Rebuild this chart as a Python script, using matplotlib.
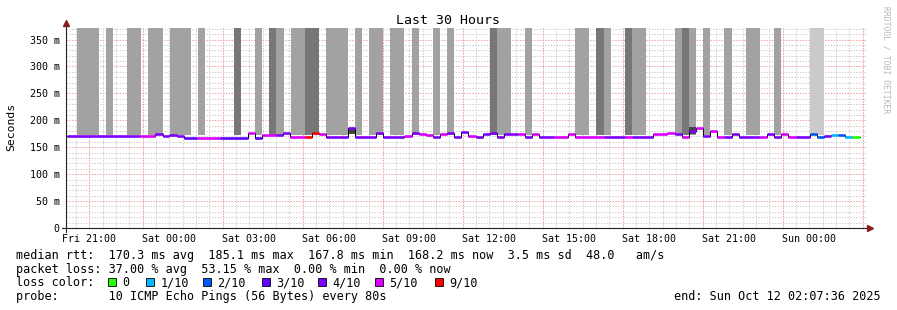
import matplotlib
matplotlib.use("Agg")
import matplotlib.pyplot as plt
import numpy as np
from matplotlib.patches import Rectangle

plt.rcParams['font.family'] = 'DejaVu Sans Mono'

W, H = 897, 310

# time axis: hours since Fri 00:00, window = last 30 hours up to Sun 02:07:36
t_start = 20 + 7.6 / 60
t_end = t_start + 30

# smoke bands (high rtt spread), hours
smoke_t0 = [20.54, 21.63, 22.41, 23.20, 24.03, 25.08, 26.43, 27.21, 27.74, 28.00,
            28.56, 29.09, 29.88, 30.96, 31.49, 32.28, 33.10, 33.89, 34.41, 36.03,
            36.29, 37.34, 39.21, 40.00, 40.30, 41.09, 41.35, 42.96, 43.23, 43.49,
            44.01, 44.80, 45.63, 46.68, 48.03]
smoke_t1 = [21.36, 21.89, 22.94, 23.76, 24.81, 25.34, 26.69, 27.48, 28.00, 28.30,
            29.09, 29.61, 30.70, 31.23, 32.01, 32.80, 33.36, 34.15, 34.68, 36.29,
            36.81, 37.60, 39.74, 40.30, 40.56, 41.35, 41.88, 43.23, 43.49, 43.75,
            44.28, 45.10, 46.15, 46.94, 48.55]
smoke_kind = ['L', 'L', 'L', 'L', 'L', 'L', 'D', 'L', 'D', 'L',
              'L', 'D', 'L', 'L', 'L', 'L', 'L', 'L', 'L', 'D',
              'L', 'L', 'L', 'D', 'L', 'D', 'L', 'L', 'D', 'L',
              'L', 'L', 'L', 'L', 'V']
smoke_lo = 172
smoke_hi = 400

# small smoke patches near the median
patch_t0 = [30.70, 43.49]
patch_t1 = [30.96, 43.75]
patch_lo = [174, 175]
patch_hi = [186, 188]

# median rtt (ms), step segments, with loss bucket
med_edges = [20.16, 22.90, 23.46, 23.76, 23.99, 24.29, 24.55, 25.04, 25.90, 26.95,
             27.21, 27.48, 28.00, 28.26, 28.53, 29.09, 29.35, 29.61, 29.88, 30.70,
             30.96, 31.75, 32.01, 32.80, 33.10, 33.36, 33.63, 33.89, 34.15, 34.41,
             34.68, 34.94, 35.20, 35.50, 35.76, 36.03, 36.29, 36.55, 37.08, 37.34,
             37.60, 37.86, 38.43, 38.95, 39.21, 40.30, 41.09, 41.35, 42.14, 42.66,
             42.96, 43.23, 43.49, 43.75, 44.01, 44.28, 44.54, 44.80, 45.10, 45.36,
             46.15, 46.41, 46.68, 46.94, 47.20, 47.50, 48.03, 48.29, 48.55, 48.81,
             49.08, 49.34, 49.60, 49.90]
med_v = [170, 170, 174, 170, 173, 170, 168, 168, 168, 177,
         168, 173, 173, 176, 169, 169, 177, 174, 169, 186,
         169, 177, 169, 171, 177, 174, 172, 169, 174, 176,
         169, 178, 171, 169, 174, 177, 169, 174, 174, 169,
         174, 169, 169, 174, 169, 169, 169, 169, 174, 176,
         174, 169, 181, 186, 171, 181, 169, 169, 174, 169,
         169, 174, 169, 174, 169, 169, 174, 169, 171, 172,
         172, 169, 169]
med_loss = [4, 5, 4, 4, 4, 4, 3, 5, 3, 5,
            3, 5, 4, 4, 5, 9, 9, 5, 4, 4,
            4, 4, 4, 5, 4, 5, 5, 4, 5, 4,
            4, 4, 5, 4, 4, 4, 4, 4, 5, 4,
            5, 4, 5, 5, 5, 4, 5, 4, 5, 5,
            4, 5, 4, 5, 4, 5, 5, 4, 4, 4,
            5, 4, 4, 5, 5, 4, 2, 2, 4, 1,
            2, 1, 0]

loss_codes = [0, 1, 2, 3, 4, 5, 9]
loss_labels = ['0', '1/10', '2/10', '3/10', '4/10', '5/10', '9/10']
loss_colors = {0: '#26ff00', 1: '#00b8ff', 2: '#0059ff', 3: '#5e00ff',
               4: '#7e00ff', 5: '#dd00ff', 9: '#ff0000'}
smoke_colors = {'L': '#a2a2a2', 'D': '#777777', 'V': '#cacaca'}

xtick_pos = [21, 24, 27, 30, 33, 36, 39, 42, 45, 48]
xtick_lab = ['Fri 21:00', 'Sat 00:00', 'Sat 03:00', 'Sat 06:00', 'Sat 09:00',
             'Sat 12:00', 'Sat 15:00', 'Sat 18:00', 'Sat 21:00', 'Sun 00:00']
ytick_pos = [0, 50, 100, 150, 200, 250, 300, 350]
ytick_lab = ['0'] + ['%d m' % v for v in ytick_pos[1:]]

fig = plt.figure(figsize=(W / 100, H / 100), dpi=100)
fig.patch.set_facecolor('white')
ax = fig.add_axes([66 / W, 82 / H, 800 / W, 200 / H])
ax.set_xlim(t_start, t_end)
ax.set_ylim(0, 371.5)

# grid
minor_c = '#cfcfcf'
major_c = '#f2a2a2'
dots = (0, (1.4, 1.4))
for y in range(10, 371, 10):
    if y % 50:
        ax.axhline(y, color=minor_c, lw=0.72, ls=dots, zorder=0)
for x in np.arange(20.5, 50.1, 0.5):
    ax.axvline(x, color=minor_c, lw=0.72, ls=dots, zorder=0)
for y in range(50, 351, 50):
    ax.axhline(y, color=major_c, lw=0.72, ls=dots, zorder=0.5)
for x in [21] + list(range(23, 51, 3)):
    ax.axvline(x, color=major_c, lw=0.72, ls=dots, zorder=0.5)

# smoke
ax.bar(smoke_t0, [smoke_hi - smoke_lo] * len(smoke_t0),
       width=[b - a for a, b in zip(smoke_t0, smoke_t1)],
       bottom=smoke_lo, align='edge', linewidth=0,
       color=[smoke_colors[k] for k in smoke_kind], zorder=1)
ax.bar(patch_t0, [b - a for a, b in zip(patch_lo, patch_hi)],
       width=[b - a for a, b in zip(patch_t0, patch_t1)],
       bottom=patch_lo, align='edge', linewidth=0, color='#444444', zorder=1.5)

# median
ax.step(med_edges, med_v + [med_v[-1]], where='post', color='black', lw=0.7, zorder=2)
ax.hlines(med_v, med_edges[:-1], med_edges[1:],
          colors=[loss_colors[c] for c in med_loss], lw=1.9, zorder=3)

# axes
for s in ['top', 'right', 'left', 'bottom']:
    ax.spines[s].set_visible(False)
axc = '#222222'
arrow_c = '#8b1c1c'
ax.plot([0, 0], [-0.02, 1.025], transform=ax.transAxes, color=axc, lw=0.8,
        clip_on=False, zorder=5)
ax.plot([-0.005, 1.003], [0, 0], transform=ax.transAxes, color=axc, lw=0.8,
        clip_on=False, zorder=5)
ax.plot([0], [1.025], marker='^', ms=4, color=arrow_c, transform=ax.transAxes,
        clip_on=False, zorder=6)
ax.plot([1.005], [0], marker='>', ms=4, color=arrow_c, transform=ax.transAxes,
        clip_on=False, zorder=6)

ax.set_xticks(xtick_pos)
ax.set_xticklabels(xtick_lab)
ax.set_yticks(ytick_pos)
ax.set_yticklabels(ytick_lab)
ax.tick_params(axis='x', length=0, pad=4, labelsize=7.2)
ax.tick_params(axis='y', length=0, pad=4.5, labelsize=7.2)

# texts
def fx(px):
    return px / W

def fy(py):
    return 1 - py / H

fig.text(fx(448), fy(20), 'Last 30 Hours', ha='center', va='center', size=9.5)
fig.text(fx(11), fy(127), 'Seconds', ha='center', va='center', rotation=90, size=8.2)
fig.text(fx(886), fy(60), 'RRDTOOL / TOBI OETIKER', ha='center', va='center',
         rotation=-90, size=5.8, color='#b8b8b8')

fs = 8.5
fig.text(fx(16), fy(258.5),
         'median rtt:  170.3 ms avg  185.1 ms max  167.8 ms min  168.2 ms now  3.5 ms sd  48.0   am/s',
         va='baseline', size=fs)
fig.text(fx(16), fy(272.5),
         'packet loss: 37.00 % avg  53.15 % max  0.00 % min  0.00 % now',
         va='baseline', size=fs)
fig.text(fx(16), fy(286.5), 'loss color:', va='baseline', size=fs)
sw_x = [108, 146, 203, 262, 318, 375, 435]
for sx, code, lab in zip(sw_x, loss_codes, loss_labels):
    fig.add_artist(Rectangle((fx(sx), fy(286)), 8 / W, 8 / H, transform=fig.transFigure,
                             facecolor=loss_colors[code], edgecolor='black', lw=0.6))
    fig.text(fx(sx + 14.5), fy(286.5), lab, va='baseline', size=fs)
fig.text(fx(16), fy(300), 'probe:       10 ICMP Echo Pings (56 Bytes) every 80s',
         va='baseline', size=fs)
fig.text(fx(881), fy(300), 'end: Sun Oct 12 02:07:36 2025', ha='right',
         va='baseline', size=fs)

fig.savefig('out.png', dpi=100, facecolor='white')
